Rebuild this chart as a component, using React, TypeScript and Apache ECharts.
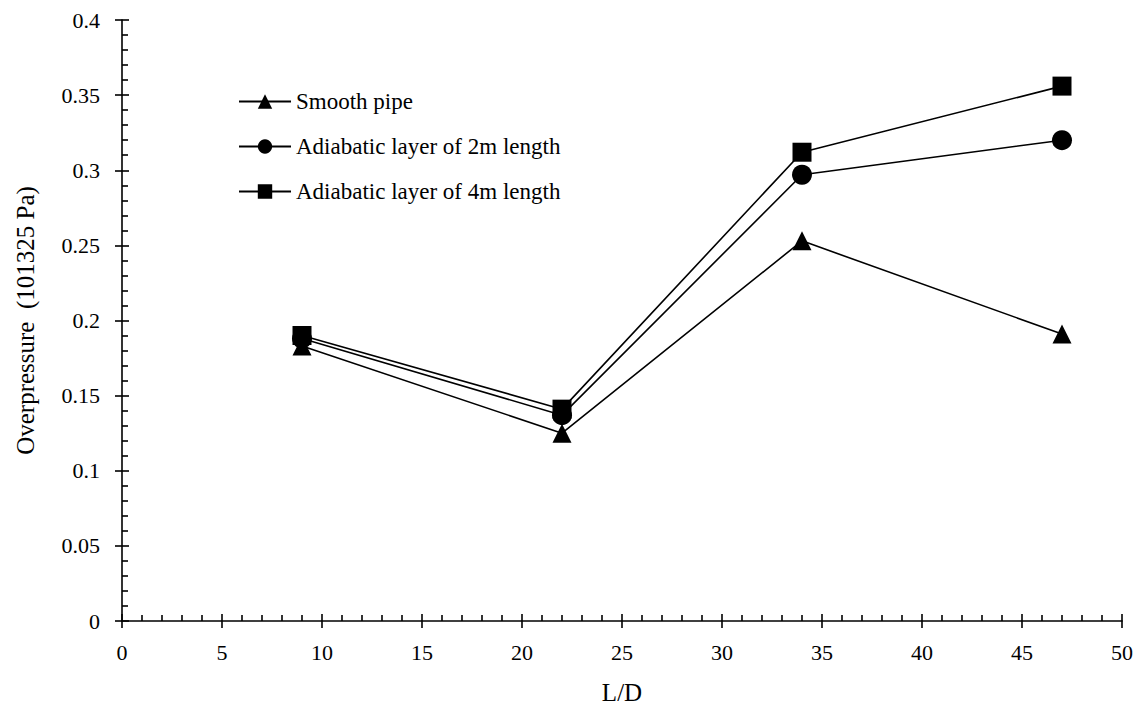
import React, { useEffect, useRef } from "react";
import * as echarts from "echarts";

const xValues = [9, 22, 34, 47];
const smoothPipe = [0.183, 0.125, 0.253, 0.191];
const adiabatic2m = [0.188, 0.137, 0.297, 0.32];
const adiabatic4m = [0.19, 0.141, 0.312, 0.356];
const seriesNames = [
  "Smooth pipe",
  "Adiabatic layer of 2m length",
  "Adiabatic layer of 4m length",
];
const xName = "L/D";
const yName = "Overpressure  (101325 Pa)";

const FONT = "Liberation Serif";

export default function App() {
  const ref = useRef<HTMLDivElement>(null);
  useEffect(() => {
    document.body.style.margin = "0";
    const chart = echarts.init(ref.current!, null, { renderer: "svg" });
    const pair = (ys: number[]) => xValues.map((x, i) => [x, ys[i]]);
    const mk = (name: string, ys: number[], symbol: string, size: number) => ({
      name,
      type: "line",
      data: pair(ys),
      symbol,
      symbolSize: size,
      showAllSymbol: true,
      lineStyle: { color: "#000", width: 1.6 },
      itemStyle: { color: "#000" },
      emphasis: { disabled: true },
    });
    chart.setOption({
      animation: false,
      backgroundColor: "#fff",
      textStyle: { fontFamily: FONT, fontSize: 22, color: "#000" },
      grid: { left: 122, right: 22, top: 20, bottom: 90, containLabel: false },
      legend: {
        orient: "vertical",
        left: 233,
        top: 85,
        itemWidth: 52,
        itemHeight: 18,
        itemGap: 22,
        data: seriesNames,
        textStyle: { color: "#000", fontFamily: FONT, fontSize: 23 },
        selectedMode: false,
      },
      xAxis: [
        {
          type: "value",
          min: 0,
          max: 50,
          interval: 5,
          position: "bottom",
          name: xName,
          nameLocation: "middle",
          nameGap: 59,
          nameTextStyle: { color: "#000", fontFamily: FONT, fontSize: 25 },
          axisLine: { show: true, onZero: false, lineStyle: { color: "#000", width: 1.6 } },
          axisTick: { show: true, inside: true, length: 7, lineStyle: { color: "#000", width: 1.6 } },
          minorTick: { show: true, splitNumber: 5, length: 6, lineStyle: { color: "#000", width: 1.6 } },
          splitLine: { show: false },
          axisLabel: { color: "#000", fontFamily: FONT, fontSize: 22, margin: 20 },
        },
        {
          type: "value",
          min: 0,
          max: 50,
          interval: 5,
          position: "bottom",
          axisLine: { show: false, onZero: false },
          axisTick: { show: true, inside: false, length: 7, lineStyle: { color: "#000", width: 1.6 } },
          axisLabel: { show: false },
          splitLine: { show: false },
        },
      ],
      yAxis: [
        {
          type: "value",
          min: 0,
          max: 0.4,
          interval: 0.05,
          position: "left",
          name: yName,
          nameLocation: "middle",
          nameGap: 84,
          nameTextStyle: { color: "#000", fontFamily: FONT, fontSize: 25 },
          axisLine: { show: true, onZero: false, lineStyle: { color: "#000", width: 1.6 } },
          axisTick: { show: true, inside: true, length: 7, lineStyle: { color: "#000", width: 1.6 } },
          minorTick: { show: true, splitNumber: 5, length: 6, lineStyle: { color: "#000", width: 1.6 } },
          splitLine: { show: false },
          axisLabel: {
            color: "#000",
            fontFamily: FONT,
            fontSize: 22,
            margin: 22,
            formatter: (v: number) => String(+v.toFixed(2)),
          },
        },
        {
          type: "value",
          min: 0,
          max: 0.4,
          interval: 0.05,
          position: "left",
          axisLine: { show: false, onZero: false },
          axisTick: { show: true, inside: false, length: 7, lineStyle: { color: "#000", width: 1.6 } },
          axisLabel: { show: false },
          splitLine: { show: false },
        },
      ],
      series: [
        mk(seriesNames[0], smoothPipe, "triangle", 19),
        mk(seriesNames[1], adiabatic2m, "circle", 20),
        mk(seriesNames[2], adiabatic4m, "rect", 19),
      ],
    });
    return () => chart.dispose();
  }, []);
  return <div ref={ref} style={{ width: 1144, height: 711 }} />;
}
